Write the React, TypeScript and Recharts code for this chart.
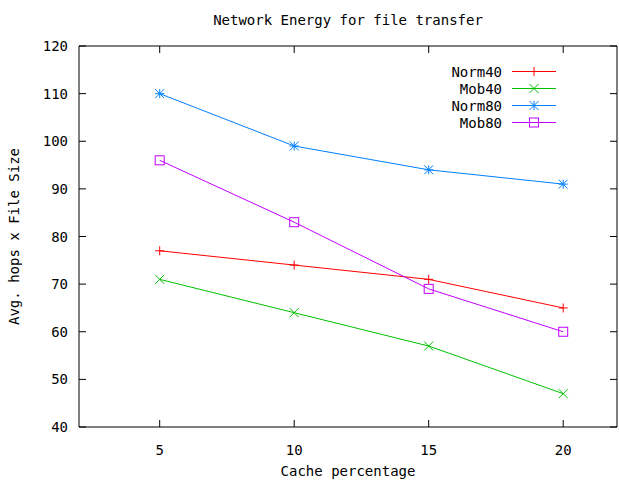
import { LineChart, Line, XAxis, YAxis, ReferenceLine } from "recharts";

const cache = [5, 10, 15, 20];
const norm40 = [77, 74, 71, 65];
const mob40 = [71, 64, 57, 47];
const norm80 = [110, 99, 94, 91];
const mob80 = [96, 83, 69, 60];
const xTicks = [5, 10, 15, 20];
const yTicks = [40, 50, 60, 70, 80, 90, 100, 110, 120];

const data = cache.map((c, i) => ({
  cache: c,
  Norm40: norm40[i],
  Mob40: mob40[i],
  Norm80: norm80[i],
  Mob80: mob80[i],
}));

const FONT = "'DejaVu Sans Mono', monospace";
const R = 4.5;
const TICK = 7;
// plot box
const TOP = 46;
const BOTTOM = 427;
const LEFT = 79;
const RIGHT = 617;

type Shape = "plus" | "cross" | "star" | "square";

const Marker = ({ cx, cy, color, shape }: { cx: number; cy: number; color: string; shape: Shape }) => {
  if (cx == null || cy == null) return null;
  const plus = (
    <>
      <line x1={cx - R} y1={cy} x2={cx + R} y2={cy} stroke={color} />
      <line x1={cx} y1={cy - R} x2={cx} y2={cy + R} stroke={color} />
    </>
  );
  const cross = (
    <>
      <line x1={cx - R} y1={cy - R} x2={cx + R} y2={cy + R} stroke={color} />
      <line x1={cx - R} y1={cy + R} x2={cx + R} y2={cy - R} stroke={color} />
    </>
  );
  if (shape === "plus") return <g>{plus}</g>;
  if (shape === "cross") return <g>{cross}</g>;
  if (shape === "star") return <g>{plus}{cross}</g>;
  return <rect x={cx - R} y={cy - R} width={2 * R} height={2 * R} fill="none" stroke={color} />;
};

const series: { key: string; color: string; shape: Shape }[] = [
  { key: "Norm40", color: "#ff0000", shape: "plus" },
  { key: "Mob40", color: "#00c000", shape: "cross" },
  { key: "Norm80", color: "#0080ff", shape: "star" },
  { key: "Mob80", color: "#c000ff", shape: "square" },
];

const tickStyle = { fontFamily: FONT, fontSize: 14, fill: "#000" };

// gnuplot style: inward ticks, mirrored on the opposite side
const XTick = ({ x, payload }: any) => (
  <g>
    <path d={`M${x},${BOTTOM}V${BOTTOM - TICK}M${x},${TOP}V${TOP + TICK}`} stroke="#000" fill="none" />
    <text x={x} y={BOTTOM + 28} textAnchor="middle" {...tickStyle}>
      {payload.value}
    </text>
  </g>
);

const YTick = ({ y, payload }: any) => (
  <g>
    <path d={`M${LEFT},${y}H${LEFT + TICK}M${RIGHT},${y}H${RIGHT - TICK}`} stroke="#000" fill="none" />
    <text x={LEFT - 11} y={y} dy="0.36em" textAnchor="end" {...tickStyle}>
      {payload.value}
    </text>
  </g>
);

const LegendBox = () => (
  <div style={{ position: "absolute", left: 440, top: 63, fontFamily: FONT, fontSize: 14, color: "#000" }}>
    {series.map((s) => (
      <div key={s.key} style={{ display: "flex", alignItems: "center", height: 17 }}>
        <div style={{ width: 62, textAlign: "right" }}>{s.key}</div>
        <svg width={54} height={17}>
          <line x1={10} y1={8.5} x2={54} y2={8.5} stroke={s.color} />
          <Marker cx={32} cy={8.5} color={s.color} shape={s.shape} />
        </svg>
      </div>
    ))}
  </div>
);

export default function App() {
  return (
    <div style={{ position: "absolute", left: 0, top: 0, width: 619, height: 480, background: "#fff" }}>
      <div
        style={{
          position: "absolute",
          left: LEFT,
          width: RIGHT - LEFT,
          top: 12,
          textAlign: "center",
          fontFamily: FONT,
          fontSize: 14,
          color: "#000",
        }}
      >
        Network Energy for file transfer
      </div>
      <LineChart width={619} height={480} data={data} margin={{ top: TOP, right: 619 - RIGHT, bottom: 0, left: 0 }}>
        <XAxis
          dataKey="cache"
          type="number"
          domain={[2, 22]}
          ticks={xTicks}
          allowDataOverflow
          height={480 - BOTTOM}
          stroke="#000"
          tickLine={false}
          tickSize={0}
          tick={<XTick />}
          label={{ value: "Cache percentage", position: "insideBottom", offset: 4, style: tickStyle }}
        />
        <YAxis
          domain={[40, 120]}
          ticks={yTicks}
          allowDataOverflow
          width={LEFT}
          stroke="#000"
          tickLine={false}
          tickSize={0}
          tick={<YTick />}
          label={{
            value: "Avg. hops x File Size",
            angle: -90,
            position: "insideLeft",
            offset: 14,
            style: { ...tickStyle, textAnchor: "middle" },
          }}
        />
        <ReferenceLine y={120} stroke="#000" ifOverflow="extendDomain" />
        <ReferenceLine x={22} stroke="#000" ifOverflow="extendDomain" />
        {series.map((s) => (
          <Line
            key={s.key}
            dataKey={s.key}
            stroke={s.color}
            strokeWidth={1}
            isAnimationActive={false}
            dot={(p: any) => <Marker key={`${s.key}-${p.index}`} cx={p.cx} cy={p.cy} color={s.color} shape={s.shape} />}
            activeDot={false}
          />
        ))}
      </LineChart>
      <LegendBox />
    </div>
  );
}
